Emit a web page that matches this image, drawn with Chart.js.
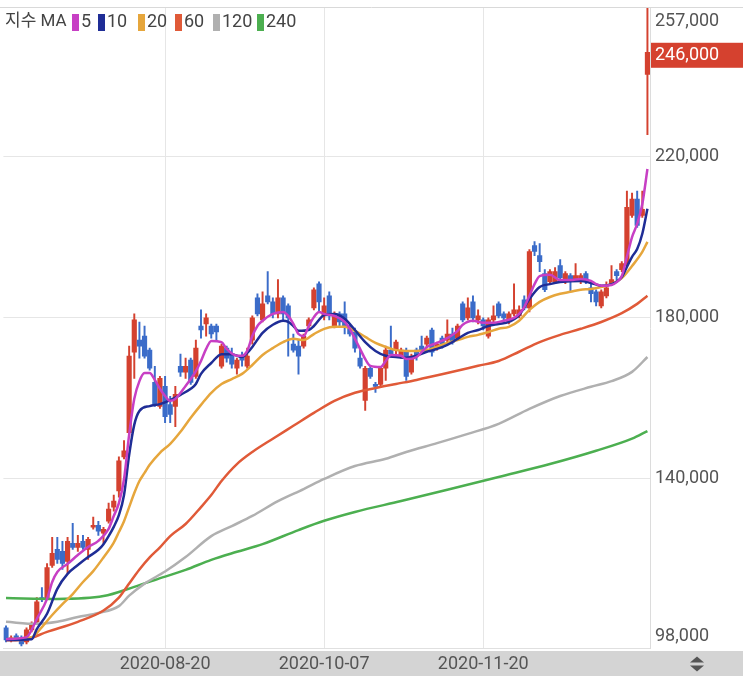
<!DOCTYPE html>
<html>
<head>
<meta charset="utf-8">
<script src="https://cdn.jsdelivr.net/npm/chart.js@4.4.0/dist/chart.umd.min.js"></script>
<style>
  html, body { margin: 0; padding: 0; background: #fff; }
  #wrap { position: relative; width: 743px; height: 679px; }
</style>
</head>
<body>
<div id="wrap"><canvas id="chart"></canvas></div>
<script>
// 휴장일 (주말 외)
const holidays = ['2020-08-17', '2020-09-30', '2020-10-01', '2020-10-02', '2020-10-09', '2020-12-25', '2020-12-31', '2021-01-01'];
const shownDates = ['2020-08-20', '2020-10-07', '2020-11-20'];
const yTicks = [98000, 140000, 180000, 220000, 257000];

// 일봉 (시가 / 고가 / 저가 / 종가)
const openP = [
  103000, 100000, 101000, 100500, 99500, 102500, 104500, 110500, 110500, 118500,
  122500, 122000, 119500, 124000, 123000, 124500, 122500, 128000, 128500, 126500,
  129500, 133000, 137000, 145500, 151500, 171500, 174500, 175500, 172000, 164000,
  158000, 163000, 158500, 158000, 168000, 166500, 169500, 165500, 178000, 178500,
  178000, 178000, 168000, 172500, 171000, 167500, 170500, 168000, 174500, 185000,
  179500, 185500, 184000, 181000, 185000, 183000, 173500, 173000, 173000, 178000,
  182500, 188500, 180500, 185500, 178000, 181000, 181000, 178000, 176500, 170000,
  159500, 167500, 163500, 163500, 167500, 172000, 172000, 170500, 171500, 166500,
  172000, 173000, 173500, 177000, 172500, 175000, 174500, 176000, 175000, 183500,
  180000, 184000, 179500, 179500, 175500, 179500, 183500, 181000, 179000, 181000,
  180500, 184500, 182500, 198000, 195500, 191000, 189000, 189000, 193000, 189000,
  190500, 189500, 189000, 191000, 187500, 186500, 183000, 185500, 188500, 191500,
  192000, 193500, 205500, 209500, 205500, 240500
];
const highP = [
  103500, 101000, 101500, 101000, 103000, 104500, 110500, 113000, 119000, 125500,
  125500, 124500, 125500, 129000, 126000, 126000, 125500, 130500, 129500, 128000,
  134000, 136000, 145500, 149500, 173000, 181000, 179000, 178000, 172500, 168000,
  165500, 165500, 160500, 163000, 171000, 170000, 170000, 174500, 182000, 181000,
  178500, 178500, 173500, 173000, 172500, 170000, 171500, 172500, 180500, 186000,
  186500, 191500, 185000, 189500, 185500, 183500, 176000, 174500, 176000, 180000,
  187500, 189000, 185000, 186500, 181500, 181500, 184000, 178500, 177500, 172000,
  168000, 168000, 164000, 168000, 173000, 178000, 174500, 172500, 172500, 171000,
  172500, 175500, 175500, 177500, 174000, 175500, 179500, 177500, 178500, 184000,
  185000, 185500, 182000, 180000, 180000, 183000, 184000, 181500, 181500, 188500,
  183000, 185500, 197000, 199000, 198500, 192000, 192000, 192500, 194500, 191500,
  191000, 193500, 191000, 191500, 188500, 187000, 187000, 189000, 193000, 192000,
  194000, 211500, 211000, 211500, 211500, 257000
];
const lowP = [
  99500, 99500, 100000, 98500, 99000, 102000, 104000, 109500, 110000, 118000,
  119000, 117500, 116500, 122500, 122000, 122500, 120000, 127500, 126000, 124000,
  129000, 132000, 135500, 145000, 150500, 165000, 170000, 170000, 167000, 158000,
  157500, 154000, 154000, 153000, 165500, 165000, 163500, 165000, 175000, 175500,
  175000, 174500, 167500, 169000, 167500, 166000, 168000, 167500, 173500, 180500,
  179000, 183500, 180000, 180000, 179500, 170500, 171500, 166000, 172500, 177500,
  182000, 181500, 179500, 179500, 177500, 178000, 176000, 175500, 171500, 167500,
  157000, 165000, 161500, 163000, 164500, 170500, 170500, 170000, 164500, 166000,
  169500, 171500, 172500, 170500, 172000, 172500, 174000, 173500, 174500, 179000,
  179500, 179000, 178500, 177000, 175000, 179000, 180000, 179000, 178500, 180500,
  180000, 182000, 181500, 195500, 191500, 186500, 188500, 188500, 189500, 188500,
  186500, 189000, 188500, 188500, 184000, 183000, 182500, 185000, 188000, 189500,
  191500, 193000, 205000, 202500, 205000, 225500
];
const closeP = [
  100000, 100500, 100000, 99000, 102500, 104000, 109500, 110000, 118000, 121500,
  120000, 119000, 124500, 123000, 124000, 123000, 125000, 128500, 127000, 127500,
  132500, 134500, 144500, 147000, 170500, 179500, 173000, 170500, 167500, 158500,
  165000, 155500, 156000, 161000, 166500, 168000, 164000, 172500, 177000, 180000,
  176000, 176500, 173000, 170000, 168500, 169500, 169500, 170500, 180000, 181000,
  183500, 184000, 181000, 185000, 181000, 180000, 172000, 170500, 175500, 179500,
  187000, 184000, 183000, 180500, 180500, 179000, 178000, 176000, 172500, 168000,
  167500, 165500, 163000, 167500, 172000, 171000, 174000, 172000, 165500, 170500,
  170500, 172000, 175000, 171500, 173500, 173500, 176000, 174000, 178000, 179500,
  182500, 180000, 180500, 178000, 179500, 180500, 180500, 180000, 181000, 182000,
  182000, 182500, 196500, 196500, 194000, 187000, 191500, 191500, 190000, 191000,
  189000, 190500, 190500, 189000, 186000, 184000, 186500, 187500, 189500, 190500,
  193500, 207500, 209500, 203000, 207000, 246000
];

// 이동평균선: [봉 번호, 값]
const ma5 = [[0,100200],[4,100700],[6,105200],[8,110200],[9,114400],[10,116900],[12,118900],[14,121100],[16,123100],[18,124600],
  [20,127600],[21,130800],[22,134000],[23,140000],[24,151000],[25,159900],[26,164300],[27,166300],[28,166300],[29,164600],
  [30,162400],[31,160600],[32,159400],[33,159900],[35,163100],[37,166800],[38,169300],[39,172300],[40,174300],[42,174000],
  [43,172300],[45,170600],[46,170600],[47,171800],[48,175500],[49,178000],[50,179300],[52,181000],[54,181500],[55,180500],
  [56,178500],[57,176000],[58,175500],[59,178000],[60,180200],[61,181500],[62,181000],[64,180500],[66,179000],[67,177300],
  [68,174800],[69,172300],[70,169800],[71,168100],[73,167800],[74,169300],[75,170800],[77,170600],[78,169800],[80,170300],
  [82,172800],[84,173800],[86,175000],[88,176800],[89,178300],[91,179300],[93,178800],[95,178800],[97,179300],[99,180000],
  [100,181000],[101,182700],[102,185500],[103,188400],[104,190400],[106,190700],[108,189400],[110,189400],[112,189700],[114,189200],
  [115,188400],[116,188000],[118,188200],[119,188900],[120,190400],[121,195200],[122,200100],[123,203400],[124,208300],[125,217000]];
const ma10 = [[0,100000],[5,100200],[6,102700],[8,106500],[10,112700],[12,116400],[14,118600],[16,120600],[18,122400],[19,123800],
  [20,125800],[21,128100],[22,131000],[23,136000],[24,146000],[25,153500],[26,156900],[28,158100],[30,158600],[32,159600],
  [34,160900],[36,162400],[37,163600],[38,166100],[40,168800],[42,171000],[44,171000],[46,170300],[47,171300],[48,172800],
  [50,176300],[52,178300],[54,179300],[55,179000],[56,178000],[57,176800],[59,177000],[60,178000],[62,180700],[64,181000],
  [66,179800],[68,177000],[70,174000],[72,171800],[74,170600],[76,170300],[78,170100],[80,170600],[82,171600],[84,172300],
  [86,173300],[88,174800],[90,176300],[92,177000],[94,178000],[96,178500],[98,179000],[100,180700],[102,184700],[104,187700],
  [106,188400],[108,188900],[112,189200],[114,188700],[116,188000],[118,188400],[120,190200],[121,192700],[122,195200],[123,197100],
  [124,200900],[125,207100]];
const ma20 = [[0,100200],[5,100700],[7,103200],[9,106200],[11,108900],[13,111400],[15,114400],[17,117100],[19,120500],[21,124200],
  [22,126800],[23,129500],[24,133000],[25,136500],[26,139500],[27,141500],[28,143500],[30,146500],[32,148700],[34,151700],
  [36,155200],[38,158400],[40,161400],[42,163600],[44,164800],[46,166100],[48,168300],[50,170800],[52,172500],[54,174000],
  [56,174800],[58,174500],[60,176000],[62,177300],[64,177800],[66,177800],[68,176800],[70,175300],[72,173800],[74,172800],
  [76,172000],[78,171800],[80,171800],[82,172000],[84,172800],[86,173800],[88,174500],[90,175300],[92,175800],[94,176500],
  [96,177300],[98,177800],[100,179300],[102,182000],[104,184000],[106,185200],[108,186000],[110,186500],[112,187000],[114,187200],
  [116,187700],[118,188400],[120,189900],[122,192900],[124,196400],[125,198900]];
const ma60 = [[0,99900],[4,100200],[8,102000],[14,104500],[19,107300],[22,110500],[23,112200],[24,114000],[26,117500],[28,120500],
  [30,123000],[32,125800],[35,128800],[38,133000],[40,136000],[42,139500],[45,143700],[48,146700],[52,150000],[56,153200],
  [60,156400],[64,159400],[68,161400],[72,162600],[76,163600],[80,164600],[86,166300],[92,168100],[96,169300],[100,171600],
  [104,174000],[108,175800],[112,177300],[116,179000],[120,181200],[123,183500],[125,185500]];
const ma120 = [[0,104500],[6,104000],[10,104500],[14,105700],[18,106700],[22,108400],[24,111000],[27,114000],[31,117000],[35,120600],
  [40,125800],[44,128300],[48,130800],[53,134500],[58,137500],[62,140000],[68,143200],[74,145000],[78,146700],[84,148900],
  [90,151200],[96,153700],[102,157400],[108,160600],[114,162900],[118,164300],[122,166600],[125,170300]];
const ma240 = [[0,110400],[10,110200],[19,110900],[25,113200],[29,114900],[35,117400],[40,119900],[45,121900],[50,123800],[57,127300],
  [62,129600],[68,131800],[77,134500],[86,137300],[96,140500],[106,143700],[115,147000],[122,150000],[125,151900]];

const family = 'Roboto, "Noto Sans CJK KR", sans-serif';
const upColor = '#d4412f';
const downColor = '#3b6cc9';

// 영업일 목록 만들기
function tradingDays(from, to) {
  let days = [];
  let d = new Date(from + 'T00:00:00Z');
  const end = new Date(to + 'T00:00:00Z');
  while (d <= end) {
    const s = d.toISOString().slice(0, 10);
    const wd = d.getUTCDay();
    if (wd !== 0 && wd !== 6 && !holidays.includes(s)) days.push(s);
    d = new Date(d.getTime() + 86400000);
  }
  return days;
}
const dates = tradingDays('2020-07-07', '2021-01-08');

function comma(v) {
  return String(v).replace(/\B(?=(\d{3})+(?!\d))/g, ',');
}

const candleColors = openP.map((o, i) => closeP[i] >= o ? upColor : downColor);

const maList = [
  { label: '5', data: ma5, color: '#c73fc4', lx: 72 },
  { label: '10', data: ma10, color: '#1f2d96', lx: 98 },
  { label: '20', data: ma20, color: '#e6a63c', lx: 138 },
  { label: '60', data: ma60, color: '#e05a38', lx: 175 },
  { label: '120', data: ma120, color: '#b0b0b0', lx: 213 },
  { label: '240', data: ma240, color: '#4caf50', lx: 257 }
];

// 축 글자, 현재가 박스, 범례 그리기
const decor = {
  id: 'decor',
  beforeDraw(chart) {
    const { ctx, chartArea: a, width } = chart;
    ctx.save();
    ctx.fillStyle = '#d4d4d4';
    ctx.fillRect(0, a.bottom + 3, width, 25);
    ctx.restore();
  },
  afterDraw(chart) {
    const { ctx, chartArea: a, width, scales } = chart;
    const y = scales.y;
    ctx.save();

    ctx.strokeStyle = '#d9d9d9';
    ctx.lineWidth = 1;
    ctx.beginPath();
    ctx.moveTo(0, a.top - 0.5);
    ctx.lineTo(width, a.top - 0.5);
    ctx.stroke();

    ctx.font = '18px ' + family;
    ctx.textBaseline = 'middle';
    ctx.textAlign = 'left';
    ctx.fillStyle = '#555';
    yTicks.forEach(v => {
      let py = y.getPixelForValue(v);
      if (v === y.max) py += 13;
      if (v === y.min) py -= 12;
      ctx.fillText(comma(v), a.right + 5, py);
    });

    const last = closeP[closeP.length - 1];
    const ly = y.getPixelForValue(last) + 3;
    ctx.fillStyle = '#d5412f';
    ctx.fillRect(a.right + 1, ly - 12.5, width - a.right - 1, 25);
    ctx.fillStyle = '#fff';
    ctx.fillText(comma(last), a.right + 5, ly);

    // 범례
    ctx.font = '17px ' + family;
    ctx.fillStyle = '#444';
    ctx.fillText('지수 MA', 5, 22);
    ctx.font = '18px ' + family;
    maList.forEach(m => {
      ctx.fillStyle = m.color;
      ctx.fillRect(m.lx, 14, 7, 17);
      ctx.fillStyle = '#444';
      ctx.fillText(m.label, m.lx + 9, 22);
    });

    // 줌 아이콘
    const ix = 697, iy = a.bottom + 15.5;
    ctx.fillStyle = '#555';
    ctx.beginPath();
    ctx.moveTo(ix - 7, iy - 1); ctx.lineTo(ix + 7, iy - 1); ctx.lineTo(ix, iy - 7); ctx.closePath();
    ctx.fill();
    ctx.beginPath();
    ctx.moveTo(ix - 7, iy + 2); ctx.lineTo(ix + 7, iy + 2); ctx.lineTo(ix, iy + 8); ctx.closePath();
    ctx.fill();

    ctx.restore();
  }
};

const datasets = maList.map(m => ({
  type: 'line',
  label: 'MA' + m.label,
  data: m.data.map(p => ({ x: dates[p[0]], y: p[1] })),
  borderColor: m.color,
  borderWidth: 2.5,
  pointRadius: 0,
  cubicInterpolationMode: 'monotone',
  fill: false,
  order: 0
}));

datasets.push({
  type: 'bar',
  label: 'wick',
  data: lowP.map((l, i) => [l, highP[i]]),
  backgroundColor: candleColors,
  barThickness: 1.3,
  grouped: false,
  order: 2
});
datasets.push({
  type: 'bar',
  label: 'body',
  data: openP.map((o, i) => [o, closeP[i]]),
  backgroundColor: candleColors,
  barThickness: 4.5,
  grouped: false,
  minBarLength: 1,
  order: 1
});

Chart.defaults.font.family = family;

new Chart(document.getElementById('chart'), {
  type: 'bar',
  data: { labels: dates, datasets: datasets },
  options: {
    responsive: true,
    maintainAspectRatio: false,
    animation: false,
    layout: { padding: { top: 8, left: 0, right: 0, bottom: 0 } },
    plugins: { legend: { display: false }, tooltip: { enabled: false } },
    scales: {
      x: {
        type: 'category',
        offset: true,
        grid: {
          offset: false,
          drawTicks: false,
          color: c => shownDates.includes(dates[c.index]) ? '#e6e6e6' : 'rgba(0,0,0,0)'
        },
        border: { display: true, color: '#e0e0e0' },
        ticks: {
          autoSkip: false,
          maxRotation: 0,
          minRotation: 0,
          padding: 6,
          color: '#555',
          font: { size: 18 },
          callback: (v, i) => shownDates.includes(dates[i]) ? dates[i] : ''
        },
        afterFit: s => { s.height = 31; }
      },
      y: {
        position: 'right',
        min: 98000,
        max: 257000,
        afterBuildTicks: s => { s.ticks = yTicks.map(v => ({ value: v })); },
        grid: {
          drawTicks: false,
          color: c => (c.tick && c.tick.value > 98000 && c.tick.value < 257000) ? '#e6e6e6' : 'rgba(0,0,0,0)'
        },
        border: { display: true, color: '#dcdcdc' },
        ticks: { display: false },
        afterFit: s => { s.width = 93; }
      }
    }
  },
  plugins: [decor]
});
</script>
</body>
</html>
